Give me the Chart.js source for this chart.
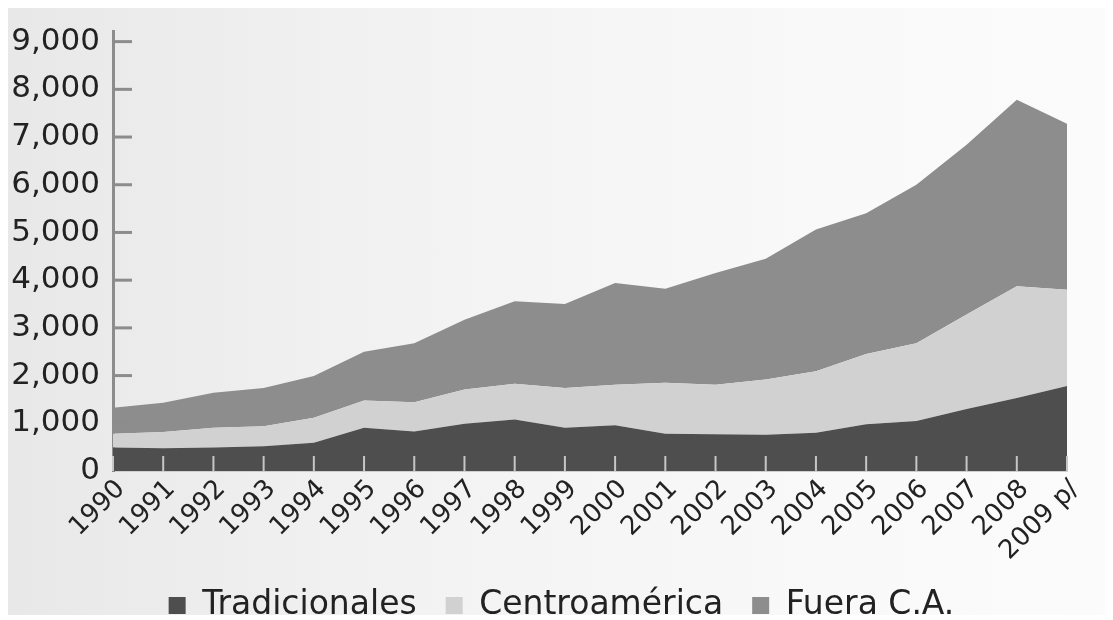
<!DOCTYPE html>
<html>
<head>
<meta charset="utf-8">
<script src="https://cdn.jsdelivr.net/npm/chart.js@4"></script>
<style>
  html, body { margin: 0; padding: 0; background: #ffffff; overflow: hidden; }
  #panel {
    position: absolute; left: 8px; top: 8px; width: 1097px; height: 607px;
    background: linear-gradient(to right, #e8e8e8 0%, #f2f2f2 35%, #f9f9f9 75%, #fbfbfb 100%);
  }
  #wrap { position: absolute; left: 0; top: 0; width: 1113px; height: 632px; }
</style>
</head>
<body>
<div id="panel"></div>
<div id="wrap"><canvas id="chart"></canvas></div>
<script>
// Years on the x axis
const years = ['1990', '1991', '1992', '1993', '1994', '1995', '1996', '1997', '1998', '1999',
               '2000', '2001', '2002', '2003', '2004', '2005', '2006', '2007', '2008', '2009 p/'];

// Y axis tick values
const yTicks = [0, 1000, 2000, 3000, 4000, 5000, 6000, 7000, 8000, 9000];

// Series values (stacked bottom to top)
const tradicionales  = [490, 475, 490, 520, 590, 905, 830, 990, 1080, 905, 960, 780, 770, 760, 800, 980, 1050, 1300, 1530, 1780];
const centroamerica  = [290, 340, 415, 420, 525, 575, 610, 720, 750, 835, 850, 1070, 1040, 1160, 1290, 1470, 1630, 1980, 2340, 2020];
const fueraCA        = [545, 615, 735, 800, 875, 1020, 1240, 1460, 1730, 1760, 2130, 1970, 2340, 2530, 2970, 2950, 3320, 3560, 3910, 3480];

const fontFamily = '"DejaVu Sans", Arial, sans-serif';

// Short tick marks drawn inside the plot (y ticks to the right, x ticks upward)
const innerTicks = {
    id: 'innerTicks',
    afterDatasetsDraw(chart) {
        const { ctx, scales: { x, y }, chartArea } = chart;
        ctx.save();
        ctx.lineCap = 'butt';
        ctx.strokeStyle = '#8c8c8c';
        ctx.lineWidth = 3;
        y.ticks.forEach((t, i) => {
            if (t.value === 0) return;
            const py = y.getPixelForTick(i);
            ctx.beginPath();
            ctx.moveTo(chartArea.left, py);
            ctx.lineTo(chartArea.left + 19, py);
            ctx.stroke();
        });
        ctx.strokeStyle = '#c6c6c6';
        ctx.lineWidth = 2;
        x.ticks.forEach((t, i) => {
            const px = x.getPixelForTick(i);
            ctx.beginPath();
            ctx.moveTo(px, chartArea.bottom);
            ctx.lineTo(px, chartArea.bottom - 15);
            ctx.stroke();
        });
        ctx.restore();
    }
};

function areaSet(label, data, color, fill) {
    return {
        label: label,
        data: data,
        backgroundColor: color,
        borderColor: color,
        borderWidth: 0,
        pointRadius: 0,
        tension: 0,
        fill: fill
    };
}

new Chart(document.getElementById('chart'), {
    type: 'line',
    data: {
        labels: years,
        datasets: [
            areaSet('Tradicionales', tradicionales, '#4e4e4e', 'origin'),
            areaSet('Centroamérica', centroamerica, '#d1d1d1', '-1'),
            areaSet('Fuera C.A.', fueraCA, '#8d8d8d', '-1')
        ]
    },
    options: {
        responsive: true,
        maintainAspectRatio: false,
        animation: false,
        layout: { padding: { left: 10, right: 0, top: 0, bottom: 0 } },
        plugins: {
            legend: {
                position: 'bottom',
                labels: {
                    color: '#222',
                    font: { family: fontFamily, size: 33 },
                    boxWidth: 17,
                    boxHeight: 17,
                    padding: 29
                }
            },
            tooltip: { enabled: false }
        },
        scales: {
            x: {
                offset: false,
                afterFit: (scale) => { scale.height = 89; },
                grid: { display: false, drawTicks: false },
                border: { display: true, color: '#cfcfcf', width: 2 },
                ticks: {
                    color: '#222',
                    font: { family: fontFamily, size: 26 },
                    minRotation: 45,
                    maxRotation: 45,
                    autoSkip: false,
                    padding: 3,
                    labelOffset: 8
                }
            },
            y: {
                stacked: true,
                min: 0,
                max: 9210,
                afterBuildTicks: (scale) => {
                    scale.ticks = yTicks.map(v => ({ value: v }));
                },
                afterFit: (scale) => { scale.width = 103; },
                grid: { display: false, drawTicks: false },
                border: { display: true, color: '#8c8c8c', width: 3 },
                ticks: {
                    color: '#222',
                    font: { family: fontFamily, size: 31 },
                    padding: 13,
                    callback: (v) => v.toLocaleString('en-US')
                }
            },
            // empty right-hand spacer so the plot ends where the original does
            spacer: {
                type: 'linear',
                position: 'right',
                afterFit: (scale) => { scale.width = 46; },
                grid: { display: false, drawTicks: false },
                border: { display: false },
                ticks: { display: false }
            }
        }
    },
    plugins: [innerTicks]
});
</script>
</body>
</html>
